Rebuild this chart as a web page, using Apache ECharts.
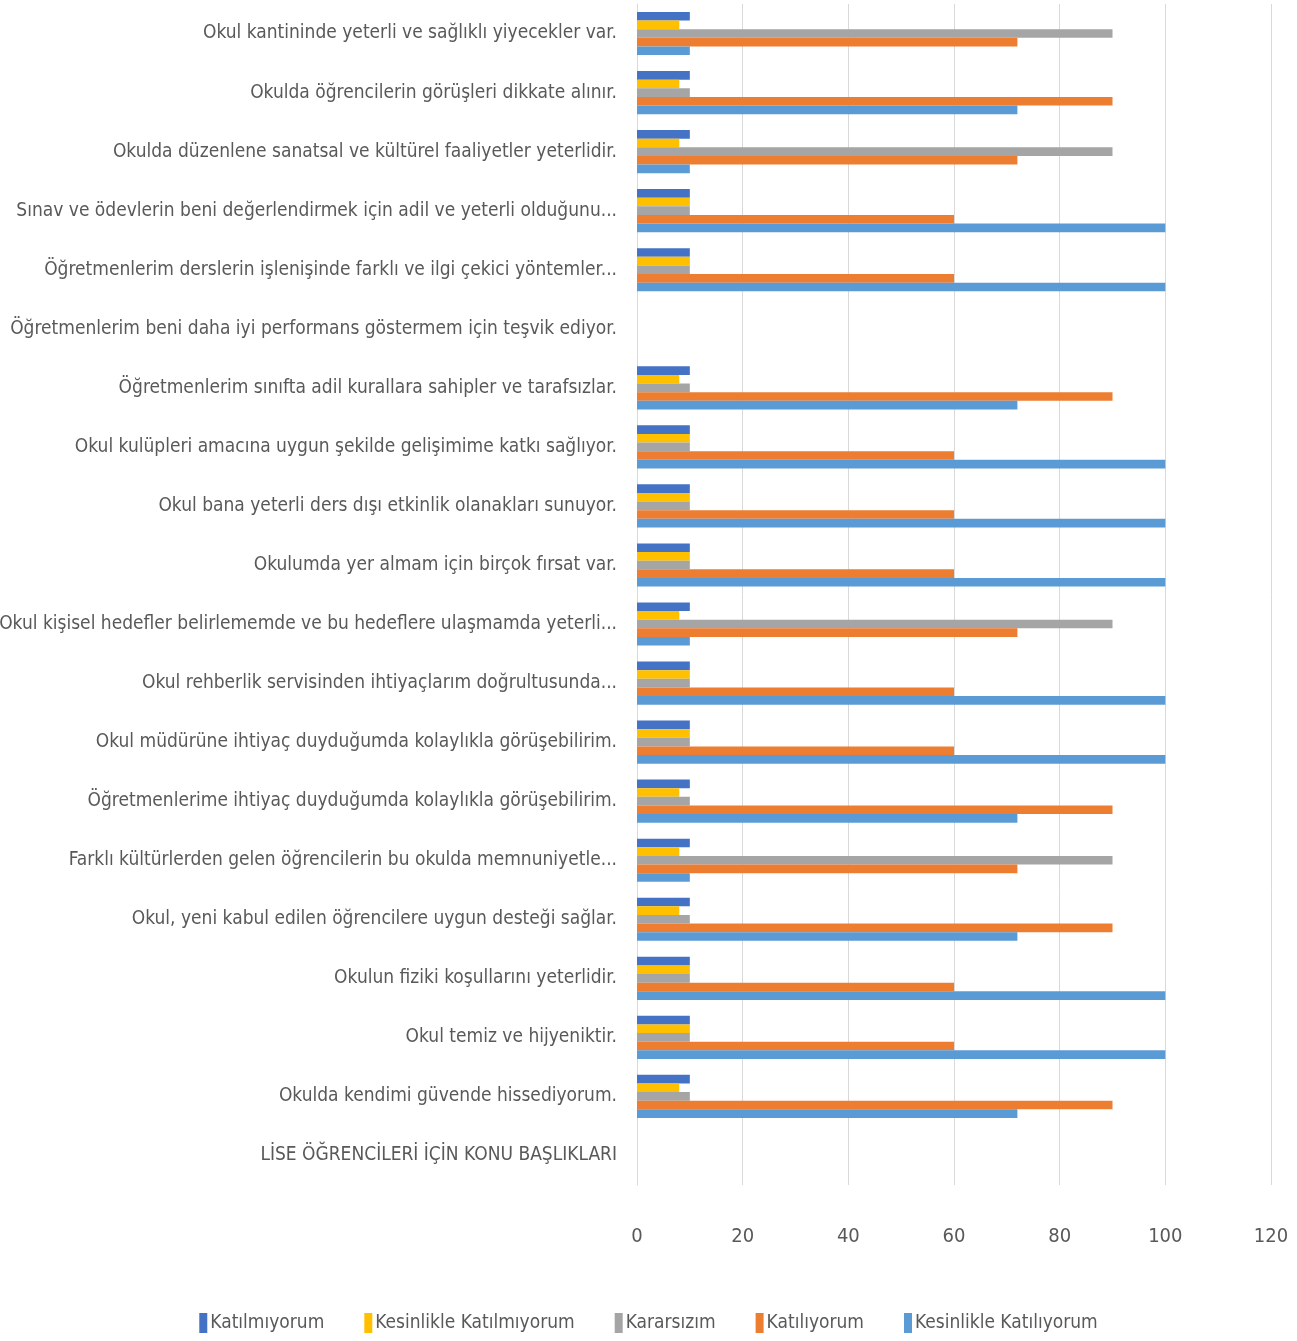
<!DOCTYPE html>
<html>
<head>
<meta charset="utf-8">
<script src="https://cdn.jsdelivr.net/npm/echarts@6/dist/echarts.min.js"></script>
<style>
  html, body { margin: 0; padding: 0; background: #fff; }
  #chart { width: 1297px; height: 1341px; }
</style>
</head>
<body>
<div id="chart"></div>
<script>
// categories, top to bottom as drawn
const categories = [
  'Okul kantininde yeterli ve sağlıklı yiyecekler var.',
  'Okulda öğrencilerin görüşleri dikkate alınır.',
  'Okulda düzenlene sanatsal ve kültürel faaliyetler yeterlidir.',
  'Sınav ve ödevlerin beni değerlendirmek için adil ve yeterli olduğunu...',
  'Öğretmenlerim derslerin işlenişinde farklı ve ilgi çekici yöntemler...',
  'Öğretmenlerim beni daha iyi performans göstermem için teşvik ediyor.',
  'Öğretmenlerim sınıfta adil kurallara sahipler ve tarafsızlar.',
  'Okul kulüpleri amacına uygun şekilde gelişimime katkı sağlıyor.',
  'Okul bana yeterli ders dışı etkinlik olanakları sunuyor.',
  'Okulumda yer almam için birçok fırsat var.',
  'Okul kişisel hedefler belirlememde ve bu hedeflere ulaşmamda yeterli...',
  'Okul rehberlik servisinden ihtiyaçlarım doğrultusunda...',
  'Okul müdürüne ihtiyaç duyduğumda kolaylıkla görüşebilirim.',
  'Öğretmenlerime ihtiyaç duyduğumda kolaylıkla görüşebilirim.',
  'Farklı kültürlerden gelen öğrencilerin bu okulda memnuniyetle...',
  'Okul, yeni kabul edilen öğrencilere uygun desteği sağlar.',
  'Okulun fiziki koşullarını yeterlidir.',
  'Okul temiz ve hijyeniktir.',
  'Okulda kendimi güvende hissediyorum.',
  'LİSE ÖĞRENCİLERİ İÇİN KONU BAŞLIKLARI'
];

const seriesNames = ['Katılmıyorum', 'Kesinlikle Katılmıyorum', 'Kararsızım', 'Katılıyorum', 'Kesinlikle Katılıyorum'];

const katilmiyorum = [10, 10, 10, 10, 10, null, 10, 10, 10, 10, 10, 10, 10, 10, 10, 10, 10, 10, 10, null];
const kesinlikleKatilmiyorum = [8, 8, 8, 10, 10, null, 8, 10, 10, 10, 8, 10, 10, 8, 8, 8, 10, 10, 8, null];
const kararsizim = [90, 10, 90, 10, 10, null, 10, 10, 10, 10, 90, 10, 10, 10, 90, 10, 10, 10, 10, null];
const katiliyorum = [72, 90, 72, 60, 60, null, 90, 60, 60, 60, 72, 60, 60, 90, 72, 90, 60, 60, 90, null];
const kesinlikleKatiliyorum = [10, 72, 10, 100, 100, null, 72, 100, 100, 100, 10, 100, 100, 72, 10, 72, 100, 100, 72, null];

const xTicks = [0, 20, 40, 60, 80, 100, 120];

const colors = ['#4472C4', '#FFC000', '#A5A5A5', '#ED7D31', '#5B9BD5'];
const textColor = '#595959';
const gridColor = '#D9D9D9';
const font = '"DejaVu Sans Condensed", "Liberation Sans Narrow", sans-serif';

const values = [katilmiyorum, kesinlikleKatilmiyorum, kararsizim, katiliyorum, kesinlikleKatiliyorum];

const chart = echarts.init(document.getElementById('chart'));
chart.setOption({
  animation: false,
  color: colors,
  textStyle: { fontFamily: font },
  grid: { left: 637, right: 26, top: 4, bottom: 156, containLabel: false, outerBoundsMode: 'none' },
  legend: {
    data: seriesNames,
    bottom: 3,
    left: 'center',
    icon: 'rect',
    itemWidth: 8,
    itemHeight: 20,
    itemGap: 40,
    textStyle: { color: textColor, fontSize: 19, fontFamily: font, padding: [0, 0, 0, -2] }
  },
  xAxis: {
    type: 'value',
    min: xTicks[0],
    max: xTicks[xTicks.length - 1],
    interval: 20,
    axisLine: { show: false },
    axisTick: { show: false },
    splitLine: { lineStyle: { color: gridColor, width: 1 } },
    axisLabel: { color: textColor, fontSize: 20, margin: 42 }
  },
  yAxis: {
    type: 'category',
    inverse: true,
    data: categories,
    axisLine: { show: true, lineStyle: { color: gridColor } },
    axisTick: { show: false },
    axisLabel: { color: textColor, fontSize: 19, margin: 20, interval: 0 }
  },
  series: seriesNames.map((name, i) => ({
    name: name,
    type: 'bar',
    data: values[i],
    barGap: '0%',
    barCategoryGap: '27%'
  }))
});
</script>
</body>
</html>
